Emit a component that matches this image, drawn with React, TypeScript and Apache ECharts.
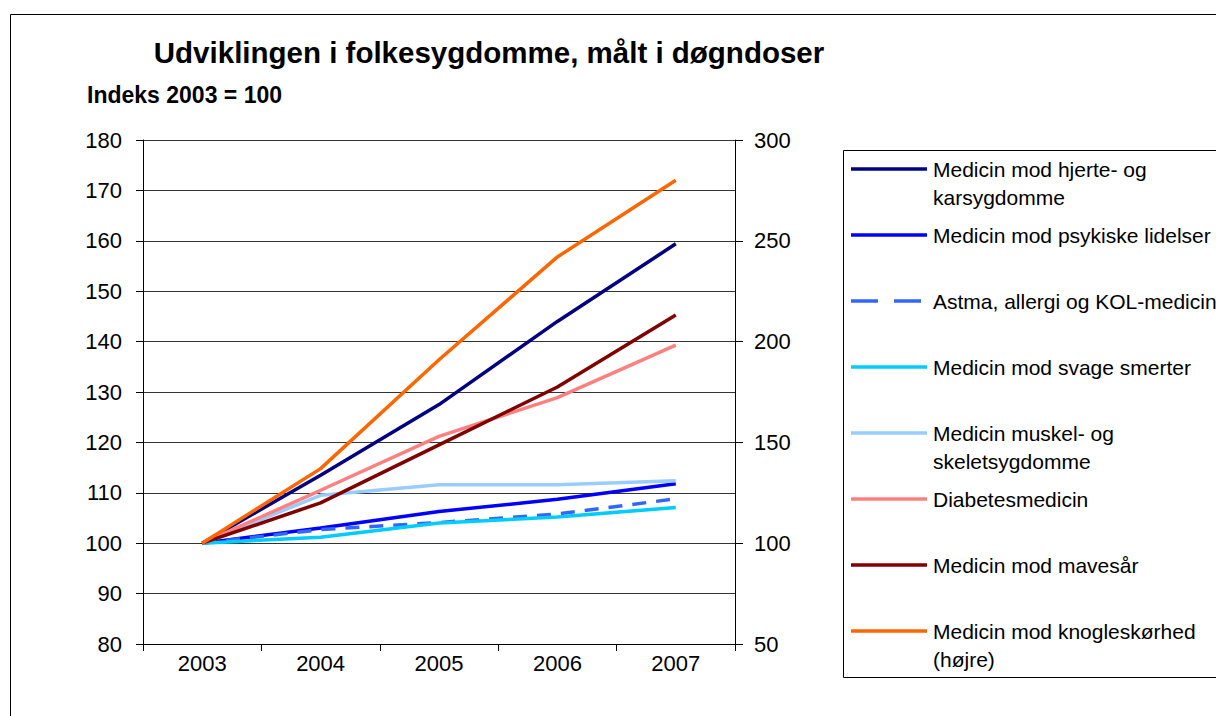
import React, { useEffect, useRef } from "react";
import * as echarts from "echarts";

const years = ["2003", "2004", "2005", "2006", "2007"];

const seriesNames = [
  "Medicin mod hjerte- og\nkarsygdomme",
  "Medicin mod psykiske lidelser",
  "Astma, allergi og KOL-medicin",
  "Medicin mod svage smerter",
  "Medicin muskel- og\nskeletsygdomme",
  "Diabetesmedicin",
  "Medicin mod mavesår",
  "Medicin mod knogleskørhed\n(højre)",
];

const hjerte = [100, 113.5, 127.5, 144.0, 159.4];
const psykiske = [100, 103.0, 106.3, 108.7, 111.8];
const astma = [100, 102.7, 104.1, 105.8, 108.8];
const smerter = [100, 101.2, 104.0, 105.2, 107.1];
const muskel = [100, 109.5, 111.6, 111.6, 112.4];
const diabetes = [100, 110.5, 121.2, 128.9, 139.3];
const mavesaar = [100, 108.0, 119.5, 131.0, 145.3];
const knogle = [100, 137, 191, 242, 280];

const seriesData = [hjerte, psykiske, astma, smerter, muskel, diabetes, mavesaar, knogle];
const colors = ["#000080", "#0000FF", "#3366FF", "#00CCFF", "#99CCFF", "#FF8080", "#800000", "#FF6600"];
const dashed = [false, false, true, false, false, false, false, false];
const onRight = [false, false, false, false, false, false, false, true];

const FONT = "Liberation Sans, Arial, sans-serif";

export default function App() {
  const ref = useRef<HTMLDivElement>(null);
  useEffect(() => {
    if (!ref.current) return;
    const chart = echarts.init(ref.current, null, { renderer: "svg" });

    const legendGraphics: any[] = [];
    legendGraphics.push({
      type: "rect",
      shape: { x: 843.5, y: 150.5, width: 420, height: 527 },
      style: { fill: "#fff", stroke: "#000", lineWidth: 1 },
      z: 10,
    });
    seriesNames.forEach((name, i) => {
      const y = 169 + i * 66;
      legendGraphics.push({
        type: "line",
        shape: { x1: 851, y1: y, x2: 927, y2: y },
        style: {
          stroke: colors[i],
          lineWidth: 3.5,
          lineDash: dashed[i] ? [27, 16] : null,
        },
        z: 11,
      });
      legendGraphics.push({
        type: "text",
        x: 933,
        y: y - 14,
        style: {
          text: name,
          font: `21px ${FONT}`,
          fill: "#000",
          lineHeight: 28,
          verticalAlign: "top",
          textAlign: "left",
        },
        z: 11,
      });
    });

    chart.setOption({
      animation: false,
      backgroundColor: "#fff",
      textStyle: { fontFamily: FONT },
      grid: { left: 143, top: 140, width: 592, height: 504, containLabel: false },
      xAxis: {
        type: "category",
        data: years,
        boundaryGap: true,
        axisLine: { lineStyle: { color: "#000", width: 1 } },
        axisTick: { show: true, inside: false, length: 7, lineStyle: { color: "#000" } },
        axisLabel: { color: "#000", fontSize: 22, margin: 8, fontFamily: FONT },
      },
      yAxis: [
        {
          type: "value",
          min: 80,
          max: 180,
          interval: 10,
          position: "left",
          axisLine: { show: true, lineStyle: { color: "#000" } },
          axisTick: { show: true, length: 7, lineStyle: { color: "#000" } },
          axisLabel: { color: "#000", fontSize: 22, margin: 21, fontFamily: FONT },
          splitLine: { show: true, lineStyle: { color: "#333333", width: 1 } },
        },
        {
          type: "value",
          min: 50,
          max: 300,
          interval: 50,
          position: "right",
          axisLine: { show: true, lineStyle: { color: "#000" } },
          axisTick: { show: true, length: 8, lineStyle: { color: "#000" } },
          axisLabel: { color: "#000", fontSize: 22, margin: 19, fontFamily: FONT },
          splitLine: { show: false },
        },
      ],
      series: seriesNames.map((name, i) => ({
        name,
        type: "line",
        data: seriesData[i],
        yAxisIndex: onRight[i] ? 1 : 0,
        symbol: "none",
        lineStyle: {
          color: colors[i],
          width: 3.5,
          type: dashed[i] ? [14, 10] : "solid",
        },
        z: 2 + i,
      })),
      graphic: [
        {
          type: "rect",
          shape: { x: 10.5, y: 14.5, width: 1400, height: 900 },
          style: { fill: "none", stroke: "#000", lineWidth: 1 },
          z: -1,
          silent: true,
        },
        {
          type: "text",
          x: 489,
          y: 52,
          style: {
            text: "Udviklingen i folkesygdomme, målt i døgndoser",
            font: `bold 29.5px ${FONT}`,
            fill: "#000",
            textAlign: "center",
            verticalAlign: "middle",
          },
        },
        {
          type: "text",
          x: 87,
          y: 95,
          style: {
            text: "Indeks 2003 = 100",
            font: `bold 23px ${FONT}`,
            fill: "#000",
            textAlign: "left",
            verticalAlign: "middle",
          },
        },
        ...legendGraphics,
      ],
    });
    return () => chart.dispose();
  }, []);
  return (
    <div
      ref={ref}
      style={{ position: "fixed", left: 0, top: 0, width: 1216, height: 716 }}
    />
  );
}
